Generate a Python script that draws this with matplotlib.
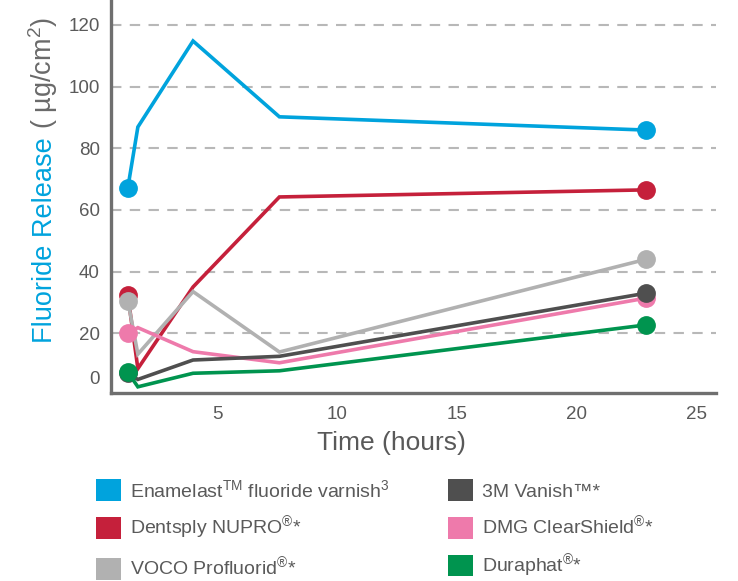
import matplotlib
matplotlib.use("Agg")
import matplotlib.pyplot as plt
from matplotlib.patches import Patch

plt.rcParams['font.family'] = ['Liberation Sans', 'DejaVu Sans']
plt.rcParams['mathtext.fontset'] = 'custom'
plt.rcParams['mathtext.rm'] = 'Liberation Sans'
plt.rcParams['mathtext.it'] = 'Liberation Sans'

# ---- data ----
times = [1.28, 1.7, 4.0, 7.6, 22.9]
enamelast = [67.1, 86.9, 114.8, 90.2, 85.9]
dentsply = [32.5, 8.5, 35.0, 64.2, 66.5]
voco = [30.6, 13.2, 33.5, 13.9, 44.0]
vanish = [7.0, 5.0, 11.3, 12.5, 33.0]
dmg = [20.0, 21.8, 14.0, 10.4, 31.4]
duraphat = [7.4, 2.6, 7.0, 7.8, 22.7]

series_names = ['Enamelast$^{\\mathrm{TM}}$ fluoride varnish$^{3}$',
                'Dentsply NUPRO$^{\\mathrm{®}}$*',
                'VOCO Profluorid$^{\\mathrm{®}}$*',
                '3M Vanish™*',
                'DMG ClearShield$^{\\mathrm{®}}$*',
                'Duraphat$^{\\mathrm{®}}$*']
series_values = [enamelast, dentsply, voco, vanish, dmg, duraphat]
series_colors = ['#00a3dd', '#c5203b', '#b1b1b1', '#4f4f4f', '#ee7aab', '#00944f']
draw_order = [1, 2, 4, 3, 5, 0]

xticks = [5, 10, 15, 20, 25]
ytick_pos = [5.5, 20, 40, 60, 80, 100, 120]
ytick_labels = ['0', '20', '40', '60', '80', '100', '120']

# ---- figure ----
fig = plt.figure(figsize=(7.38, 5.81), dpi=100)
ax = fig.add_axes([111/738, 1-393.3/581, (716-111)/738, 393.3/581])

for z, i in enumerate(draw_order):
    ax.plot(times, series_values[i], color=series_colors[i], lw=2.6,
            marker='o', markersize=12.5, markevery=[0, len(times)-1],
            solid_joinstyle='miter', zorder=3+z, clip_on=False)

ax.set_xlim(0.58, 25.8)
ax.set_ylim(0.5, 128.1)
ax.set_xticks(xticks)
ax.set_yticks(ytick_pos)
ax.set_yticklabels(ytick_labels)
ax.tick_params(length=0, labelsize=13.5, labelcolor='#5a5a5a')
ax.tick_params(axis='y', pad=8)
ax.tick_params(axis='x', pad=9)

ax.yaxis.grid(True, color='#b8b8b8', lw=1.5, ls=(0, (5, 4)))
ax.get_ygridlines()[0].set_visible(False)
ax.set_axisbelow(True)

for s in ['top', 'right']:
    ax.spines[s].set_visible(False)
for s in ['left', 'bottom']:
    ax.spines[s].set_color('#6f6f6f')
    ax.spines[s].set_linewidth(2.4)

ax.set_xlabel('Time (hours)', fontsize=19, color='#595959')
ax.xaxis.set_label_coords((391-111)/605, -(450-393.3)/393.3)
ax.xaxis.label.set_va('baseline')

fig.text(52/738, 1-343/581, 'Fluoride Release', rotation=90, rotation_mode='anchor',
         ha='left', va='baseline', fontsize=19.5, color='#00a3dd')
fig.text(52/738, 1-129/581, '( µg/cm$^{2}$)', rotation=90, rotation_mode='anchor',
         ha='left', va='baseline', fontsize=19.5, color='#6a6a6a')

handles = [Patch(facecolor=c, edgecolor='none') for c in series_colors]
fig.legend(handles, series_names, ncol=2, loc='upper left',
           bbox_to_anchor=(96/738, 1-479/581), frameon=False, borderpad=0,
           borderaxespad=0, fontsize=14, handlelength=1.3, handleheight=1.35,
           handletextpad=0.45, labelspacing=0.68, columnspacing=3.0,
           labelcolor='#5a5a5a')

fig.savefig('out.png', dpi=100)
